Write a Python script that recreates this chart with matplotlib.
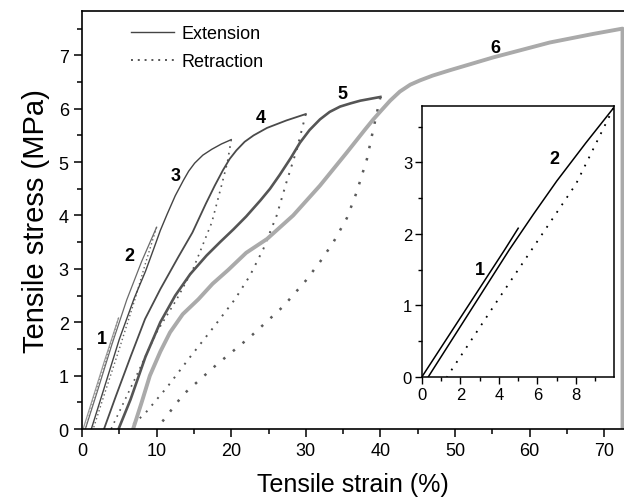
import matplotlib
matplotlib.use("Agg")
import matplotlib.pyplot as plt
from matplotlib.lines import Line2D
from matplotlib.ticker import MultipleLocator

plt.rcParams["font.family"] = ["Liberation Sans", "DejaVu Sans"]

# ======================
# DATA
# ======================
# main plot: extension curves
ext1_x = [0.15, 1.5, 3.0, 4.9]
ext1_y = [0.0, 0.6, 1.27, 2.08]
ext2_x = [0.45, 2.0, 4.0, 6.0, 8.0, 10.0]
ext2_y = [0.0, 0.68, 1.58, 2.42, 3.14, 3.78]
ext3_x = [1.25, 3.0, 5.0, 7.0, 8.5, 9.6, 10.5, 11.4, 12.5, 13.6, 14.3, 15.1, 16.2,
          17.4, 18.7, 20.0]
ext3_y = [0.0, 0.78, 1.68, 2.45, 2.95, 3.37, 3.72, 4.02, 4.37, 4.66, 4.83, 4.98, 5.13,
          5.24, 5.34, 5.42]
ext4_x = [2.95, 4.5, 6.5, 8.45, 10.5, 12.9, 14.8, 16.6, 17.8, 18.9, 19.8, 20.7, 21.8,
          23.0, 24.8, 27.4, 30.0]
ext4_y = [0.0, 0.6, 1.35, 2.06, 2.62, 3.22, 3.68, 4.22, 4.56, 4.85, 5.06, 5.22, 5.38,
          5.5, 5.64, 5.78, 5.9]
ext5_x = [4.9, 6.5, 8.5, 10.5, 12.5, 14.5, 16.7, 18.5, 20.3, 22.0, 23.9, 25.2, 26.5,
          28.0, 29.2, 30.5, 31.9, 33.2, 34.6, 36.0, 37.3, 40.0]
ext5_y = [0.0, 0.55, 1.35, 2.0, 2.5, 2.9, 3.25, 3.5, 3.74, 3.98, 4.28, 4.5, 4.76,
          5.08, 5.36, 5.6, 5.8, 5.94, 6.04, 6.1, 6.15, 6.22]
ext6_x = [6.85, 8.0, 9.1, 10.5, 11.8, 13.5, 15.6, 17.5, 19.6, 22.0, 24.8, 28.3, 31.9,
          35.5, 38.0, 39.05, 40.2, 41.3, 42.6, 44.0, 45.3, 47.0, 49.3, 55.1, 62.7,
          68.5, 72.45, 72.45]
ext6_y = [0.0, 0.5, 1.0, 1.45, 1.81, 2.15, 2.43, 2.72, 2.98, 3.3, 3.56, 4.0, 4.56,
          5.18, 5.62, 5.8, 5.98, 6.15, 6.32, 6.45, 6.53, 6.62, 6.72, 6.96, 7.24,
          7.4, 7.5, 0.0]

# main plot: retraction curves
ret1_x = [4.9, 3.0, 1.5, 0.5]
ret1_y = [2.08, 1.2, 0.55, 0.0]
ret2_x = [10.0, 8.5, 7.1, 5.0, 3.0, 1.5]
ret2_y = [3.78, 3.1, 2.43, 1.5, 0.65, 0.0]
ret3_x = [20.0, 19.5, 18.7, 17.4, 14.9, 12.7, 10.0, 7.3, 3.9]
ret3_y = [5.42, 5.0, 4.56, 3.87, 3.0, 2.43, 1.81, 1.0, 0.0]
ret4_x = [30.0, 28.8, 27.4, 26.1, 24.3, 22.5, 20.5, 17.6, 14.5, 11.5, 8.5, 6.2]
ret4_y = [5.9, 5.24, 4.62, 4.0, 3.37, 2.87, 2.43, 1.9, 1.35, 0.8, 0.3, 0.0]
ret5_x = [40.0, 39.05, 38.2, 36.8, 35.5, 33.7, 32.0, 30.0, 27.0, 22.5, 18.0, 13.6, 10.0]
ret5_y = [6.22, 5.62, 5.06, 4.43, 3.95, 3.5, 3.15, 2.78, 2.3, 1.72, 1.2, 0.65, 0.0]

# inset
in_ext1_x = [0.0, 4.3, 5.0]
in_ext1_y = [0.0, 1.78, 2.08]
in_ext2_x = [0.33, 4.54, 5.8, 7.0, 8.5, 9.94]
in_ext2_y = [0.0, 1.78, 2.28, 2.74, 3.27, 3.76]
in_ret2_x = [9.94, 8.0, 6.0, 4.0, 1.3]
in_ret2_y = [3.76, 2.7, 1.9, 1.1, 0.0]

labels_main = ["1", "2", "3", "4", "5", "6"]
label_x = [2.6, 6.4, 12.5, 23.9, 34.9, 55.4]
label_y = [1.69, 3.25, 4.74, 5.84, 6.28, 7.14]

# ======================
# PLOT
# ======================
fig = plt.figure(figsize=(6.24, 5.02), dpi=100)
ax = fig.add_axes([0.1314, 0.1434, 0.8686, 0.8327])

ax.plot(ext1_x, ext1_y, color="#9a9a9a", lw=0.9)
ax.plot(ret1_x, ret1_y, color="#888888", lw=0.9, ls=(0, (1, 2)))
ax.plot(ext2_x, ext2_y, color="#6a6a6a", lw=0.9)
ax.plot(ret2_x, ret2_y, color="#666666", lw=1.0, ls=(0, (1, 2)))
ax.plot(ext3_x, ext3_y, color="#444444", lw=1.0)
ax.plot(ret3_x, ret3_y, color="#555555", lw=1.2, ls=(0, (1, 3)))
ax.plot(ext4_x, ext4_y, color="#4a4a4a", lw=1.3)
ax.plot(ret4_x, ret4_y, color="#555555", lw=1.4, ls=(0, (1, 3.5)))
ax.plot(ext5_x, ext5_y, color="#555555", lw=1.9)
ax.plot(ret5_x, ret5_y, color="#5a5a5a", lw=1.8, ls=(0, (1, 4)))
ax.plot(ext6_x, ext6_y, color="#aaaaaa", lw=2.8)

for t, x, y in zip(labels_main, label_x, label_y):
    ax.text(x, y, t, fontsize=13, fontweight="bold", ha="center", va="center")

ax.set_xlim(0, 72.65)
ax.set_ylim(0, 7.83)
ax.xaxis.set_major_locator(MultipleLocator(10))
ax.xaxis.set_minor_locator(MultipleLocator(5))
ax.yaxis.set_major_locator(MultipleLocator(1))
ax.yaxis.set_minor_locator(MultipleLocator(0.5))
ax.tick_params(which="both", direction="out", width=1.1, labelsize=13)
ax.tick_params(which="major", length=6)
ax.tick_params(which="minor", length=3.5)
ax.spines["right"].set_visible(False)
for s in ["left", "bottom", "top"]:
    ax.spines[s].set_linewidth(1.2)

ax.set_xlabel("Tensile strain (%)", fontsize=18, labelpad=9)
ax.set_ylabel("Tensile stress (MPa)", fontsize=21, labelpad=6)

handles = [Line2D([], [], color="#444444", lw=1.0),
           Line2D([], [], color="#555555", lw=1.4, ls=(0, (1, 2.5)))]
ax.legend(handles, ["Extension", "Retraction"], loc="upper left",
          bbox_to_anchor=(0.06, 1.005), frameon=False, fontsize=13,
          handlelength=2.4, handletextpad=0.4, labelspacing=0.6)

# ======================
# INSET
# ======================
ins = fig.add_axes([0.676, 0.247, 0.308, 0.540])
ins.plot(in_ext1_x, in_ext1_y, color="black", lw=1.1)
ins.plot(in_ext2_x, in_ext2_y, color="black", lw=1.1)
ins.plot(in_ret2_x, in_ret2_y, color="black", lw=1.3, ls=(0, (1, 4)))
ins.text(3.0, 1.51, "1", fontsize=13, fontweight="bold", ha="center", va="center")
ins.text(6.9, 3.05, "2", fontsize=13, fontweight="bold", ha="center", va="center")
ins.set_xlim(0, 9.97)
ins.set_ylim(0, 3.79)
ins.xaxis.set_major_locator(MultipleLocator(2))
ins.xaxis.set_minor_locator(MultipleLocator(1))
ins.yaxis.set_major_locator(MultipleLocator(1))
ins.yaxis.set_minor_locator(MultipleLocator(0.5))
ins.tick_params(which="both", direction="out", width=1.0, labelsize=12, pad=2)
ins.tick_params(which="major", length=5)
ins.tick_params(which="minor", length=3)
for s in ins.spines.values():
    s.set_linewidth(1.1)

fig.savefig("out.png", dpi=100)
